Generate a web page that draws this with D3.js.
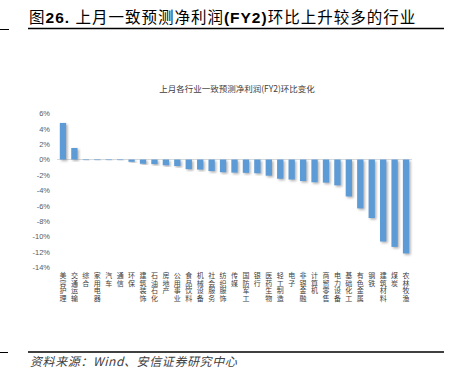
<!DOCTYPE html>
<html>
<head>
<meta charset="utf-8">
<script src="https://d3js.org/d3.v7.min.js"></script>
<style>
  body { margin: 0; background: #fff; }
  svg { display: block; }
</style>
</head>
<body>
<div id="chart"></div>
<script>
// industries, ordered as in the chart
var industries = ["美容护理", "交通运输", "综合", "家用电器", "汽车", "通信", "环保", "建筑装饰",
    "石油石化", "房地产", "公用事业", "食品饮料", "机械设备", "社会服务", "纺织服饰", "传媒",
    "国防军工", "银行", "医药生物", "轻工制造", "电子", "非银金融", "计算机", "商贸零售",
    "电力设备", "基础化工", "有色金属", "钢铁", "建筑材料", "煤炭", "农林牧渔"];
// month-on-month change of FY2 consensus net profit, %
var changes = [4.75, 1.5, -0.05, -0.06, -0.07, -0.08, -0.3, -0.55,
    -0.6, -0.75, -0.85, -1.25, -1.3, -1.5, -1.65, -1.7,
    -1.73, -1.78, -2.1, -2.5, -2.6, -2.8, -2.95, -3.0,
    -3.35, -4.8, -6.35, -7.6, -10.65, -11.35, -12.2];
var yTicks = [6, 4, 2, 0, -2, -4, -6, -8, -10, -12, -14];

var data = industries.map(function(d, i) { return {name: d, value: changes[i]}; });

var W = 449, H = 386;
var svg = d3.select("#chart").append("svg")
    .attr("width", W)
    .attr("height", H);

var cjk = "'Noto Sans CJK SC', 'Noto Sans', sans-serif";
var latin = "'Liberation Sans', Arial, sans-serif";

// drop shadow for bars
var defs = svg.append("defs");
var f = defs.append("filter").attr("id", "shadow")
    .attr("x", "-50%").attr("y", "-10%").attr("width", "200%").attr("height", "130%");
f.append("feDropShadow")
    .attr("dx", 1.5).attr("dy", 1.5).attr("stdDeviation", 0.8)
    .attr("flood-color", "#7f7f7f").attr("flood-opacity", 0.6);

// page title
var title = svg.append("text")
    .attr("x", 29).attr("y", 23)
    .style("font-family", cjk)
    .style("font-size", "15.5px")
    .style("letter-spacing", "1px")
    .style("fill", "#000");
title.append("tspan").text("图");
title.append("tspan").style("font-family", latin).style("font-weight", "bold").text("26. ");
title.append("tspan").text("上月一致预测净利润");
title.append("tspan").style("font-family", latin).style("font-weight", "bold").text("(FY2)");
title.append("tspan").text("环比上升较多的行业");

// rules
svg.append("line").attr("x1", 28).attr("x2", 444).attr("y1", 28.5).attr("y2", 28.5)
    .attr("stroke", "#000").attr("stroke-width", 1.3);
svg.append("line").attr("x1", 0).attr("x2", 9).attr("y1", 29.5).attr("y2", 29.5)
    .attr("stroke", "#000").attr("stroke-width", 1);
svg.append("line").attr("x1", 28).attr("x2", 444).attr("y1", 352).attr("y2", 352)
    .attr("stroke", "#000").attr("stroke-width", 1.3);
svg.append("line").attr("x1", 0).attr("x2", 8).attr("y1", 352.5).attr("y2", 352.5)
    .attr("stroke", "#000").attr("stroke-width", 1);

// source
svg.append("text")
    .attr("x", 30).attr("y", 366)
    .style("font-family", cjk)
    .style("font-size", "12px")
    .style("letter-spacing", "0.6px")
    .style("font-style", "italic")
    .style("fill", "#404040")
    .text("资料来源：Wind、安信证券研究中心");

// chart title
svg.append("text")
    .attr("x", 237).attr("y", 92)
    .attr("text-anchor", "middle")
    .style("font-family", cjk)
    .style("font-size", "8.5px")
    .style("fill", "#404040")
    .text("上月各行业一致预测净利润(FY2)环比变化");

// scales
var x = d3.scaleBand()
    .domain(industries)
    .range([57.3, 411.7])
    .paddingInner(0.45)
    .paddingOuter(0.22);

var y = d3.scaleLinear()
    .domain([-14, 6])
    .range([267.3, 113.3]);

// y axis labels
var yAxis = svg.append("g")
    .attr("transform", "translate(52,0)")
    .call(d3.axisLeft(y).tickValues(yTicks).tickSize(0).tickPadding(2)
        .tickFormat(function(d) { return d + "%"; }));
yAxis.select(".domain").remove();
yAxis.selectAll("text")
    .style("font-family", latin)
    .style("font-size", "7.5px")
    .style("fill", "#595959");

// zero line
svg.append("line")
    .attr("x1", 57).attr("x2", 412)
    .attr("y1", y(0)).attr("y2", y(0))
    .attr("stroke", "#d9d9d9").attr("stroke-width", 1);

// bars
svg.append("g").selectAll("rect")
    .data(data)
    .enter().append("rect")
    .attr("x", function(d) { return x(d.name); })
    .attr("width", x.bandwidth())
    .attr("y", function(d) { return y(Math.max(0, d.value)); })
    .attr("height", function(d) { return Math.max(0.6, Math.abs(y(d.value) - y(0))); })
    .attr("fill", "#5b9bd5")
    .attr("filter", "url(#shadow)");

// vertical category labels, one character per text, set in vertical mode
var labelG = svg.append("g");
data.forEach(function(d) {
    var cx = x(d.name) + x.bandwidth() / 2;
    d.name.split("").forEach(function(c, i) {
        labelG.append("text")
            .attr("x", cx)
            .attr("y", 272 + i * 7.6)
            .style("writing-mode", "vertical-rl")
            .style("font-family", cjk)
            .style("font-size", "7px")
            .style("fill", "#404040")
            .text(c);
    });
});
</script>
</body>
</html>
